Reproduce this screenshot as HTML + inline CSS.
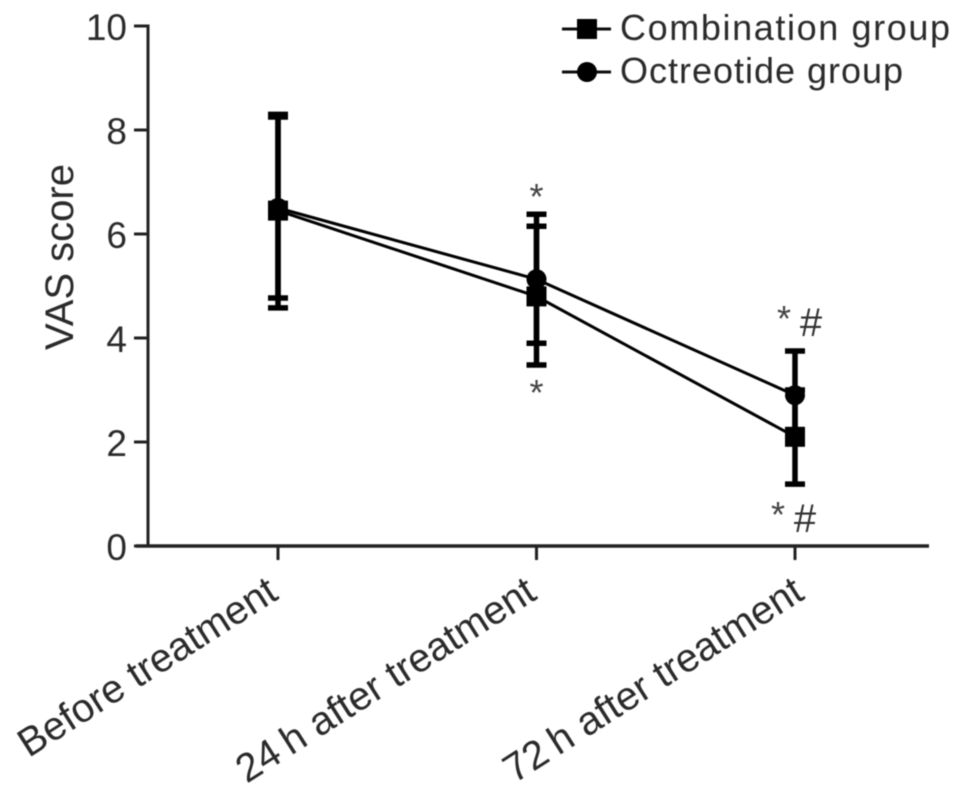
<!DOCTYPE html>
<html>
<head>
<meta charset="utf-8">
<title>VAS score chart</title>
<style>
html,body{margin:0;padding:0;background:#fff;}
svg{display:block;}
text{font-family:"Liberation Sans",sans-serif;fill:#2b2b2b;}
</style>
</head>
<body>
<svg id="chart" xmlns="http://www.w3.org/2000/svg" width="963" height="802" viewBox="0 0 963 802">
<defs><filter id="soft" x="-5%" y="-5%" width="110%" height="110%"><feGaussianBlur stdDeviation="0.6"/></filter></defs>
<g id="root" filter="url(#soft)"></g>
</svg>
<script>
const categories = ['Before treatment', '24\u2009h after treatment', '72\u2009h after treatment'];
const yTicks = [0, 2, 4, 6, 8, 10];
const seriesNames = ['Combination group', 'Octreotide group'];
const combinationMean = [6.45, 4.8, 2.1];
const combinationUpper = [8.3, 6.15, 3.0];
const combinationLower = [4.58, 3.48, 1.19];
const octreotideMean = [6.5, 5.13, 2.9];
const octreotideUpper = [8.25, 6.38, 3.75];
const octreotideLower = [4.77, 3.9, 2.05];
const annotationsTop = ['', '*', '* #'];
const annotationsBottom = ['', '*', '* #'];

const NS = 'http://www.w3.org/2000/svg';
const root = document.getElementById('root');
const yScale = v => 546 - v * 52;
const xScale = i => 278 + i * 258.5;

function add(parent, tag, attrs, txt) {
  const el = document.createElementNS(NS, tag);
  for (const k in attrs) el.setAttribute(k, attrs[k]);
  if (txt !== undefined) el.textContent = txt;
  parent.appendChild(el);
  return el;
}

/* axes */
const yAxis = add(root, 'g', {});


add(yAxis, 'line', {x1: 148, x2: 148, y1: yScale(10) - 1.5, y2: yScale(0) + 1.5, stroke: '#222', 'stroke-width': 3});
yTicks.forEach(t => {
  add(yAxis, 'line', {x1: 134, x2: 148, y1: yScale(t), y2: yScale(t), stroke: '#222', 'stroke-width': 3});
  const lab = add(yAxis, 'text', {x: 127, y: yScale(t) + 14, 'text-anchor': 'end', 'font-size': 37}, String(t));
  
  
});
const yTitle = add(root, 'text', {transform: 'translate(73,257) rotate(-90)', 'text-anchor': 'middle', 'font-size': 40}, 'VAS score');



const xAxis = add(root, 'g', {});


add(xAxis, 'line', {x1: 136, x2: 929, y1: yScale(0), y2: yScale(0), stroke: '#222', 'stroke-width': 3.5});
categories.forEach((c, i) => {
  add(xAxis, 'line', {x1: xScale(i), x2: xScale(i), y1: yScale(0), y2: yScale(0) + 14, stroke: '#222', 'stroke-width': 3});
  const ax = xScale(i) + (i === 2 ? 11 : 2);
  const lab = add(xAxis, 'text', {transform: 'translate(' + ax + ',' + 598 + ') rotate(-32.5)', 'text-anchor': 'end', 'font-size': 40}, c);
  
  
});

/* series */
function drawLine(vals, name) {
  const g = add(root, 'polyline', {
    points: vals.map((v, i) => xScale(i) + ',' + yScale(v)).join(' '),
    fill: 'none', stroke: '#000', 'stroke-width': 3
  });
  
  
}
function drawErrors(up, lo, name) {
  up.forEach((u, i) => {
    const g = add(root, 'g', {stroke: '#000', 'stroke-width': 5.5});
    
    
    const x = xScale(i);
    add(g, 'line', {x1: x, x2: x, y1: yScale(u), y2: yScale(lo[i])});
    add(g, 'line', {x1: x - 10, x2: x + 10, y1: yScale(u), y2: yScale(u)});
    add(g, 'line', {x1: x - 10, x2: x + 10, y1: yScale(lo[i]), y2: yScale(lo[i])});
  });
}
drawLine(combinationMean, 'combination-line');
drawLine(octreotideMean, 'octreotide-line');
drawErrors(combinationUpper, combinationLower, 'combination-error-bar');
drawErrors(octreotideUpper, octreotideLower, 'octreotide-error-bar');
combinationMean.forEach((v, i) => {
  const m = add(root, 'rect', {x: xScale(i) - 10, y: yScale(v) - 10, width: 20, height: 20, fill: '#000'});
  
  
});
octreotideMean.forEach((v, i) => {
  const m = add(root, 'circle', {cx: xScale(i), cy: yScale(v), r: 10, fill: '#000'});
  
  
});

/* significance annotations: anchored above the top whisker / below the bottom whisker */
function annotate(txt, i, y, starDx, hashDx, name) {
  if (!txt) return;
  const parts = txt.split(' ');
  const x = xScale(i);
  const star = add(root, 'text', {x: x + starDx, y: y, 'text-anchor': 'middle', 'font-size': 36, style: 'fill:#444'}, parts[0]);
  
  
  if (parts[1]) {
    const hash = add(root, 'text', {x: x + hashDx, y: y + 5, 'text-anchor': 'middle', 'font-size': 40, style: 'fill:#333'}, parts[1]);
    
    
  }
}
annotate(annotationsTop[1], 1, yScale(octreotideUpper[1]) - 5, 0, 0, 'annotation-top');
annotate(annotationsBottom[1], 1, yScale(combinationLower[1]) + 40, 0, 0, 'annotation-bottom');
annotate(annotationsTop[2], 2, yScale(octreotideUpper[2]) - 20, -11, 16, 'annotation-top');
annotate(annotationsBottom[2], 2, yScale(combinationLower[2]) + 43, -17, 10, 'annotation-bottom');

/* legend */
const legendRows = [29, 72];
const legendTextWidths = [330, 283];
seriesNames.forEach((n, i) => {
  const g = add(root, 'g', {});
  
  
  const y = legendRows[i];
  add(g, 'line', {x1: 562, x2: 611, y1: y, y2: y, stroke: '#111', 'stroke-width': 3});
  if (i === 0) add(g, 'rect', {x: 577, y: y - 10, width: 20, height: 20, fill: '#000'});
  else add(g, 'circle', {cx: 587, cy: y, r: 10, fill: '#000'});
  add(g, 'text', {x: 620, y: y + 11, 'font-size': 36, textLength: legendTextWidths[i], lengthAdjust: 'spacing'}, n);
});
</script>
</body>
</html>
